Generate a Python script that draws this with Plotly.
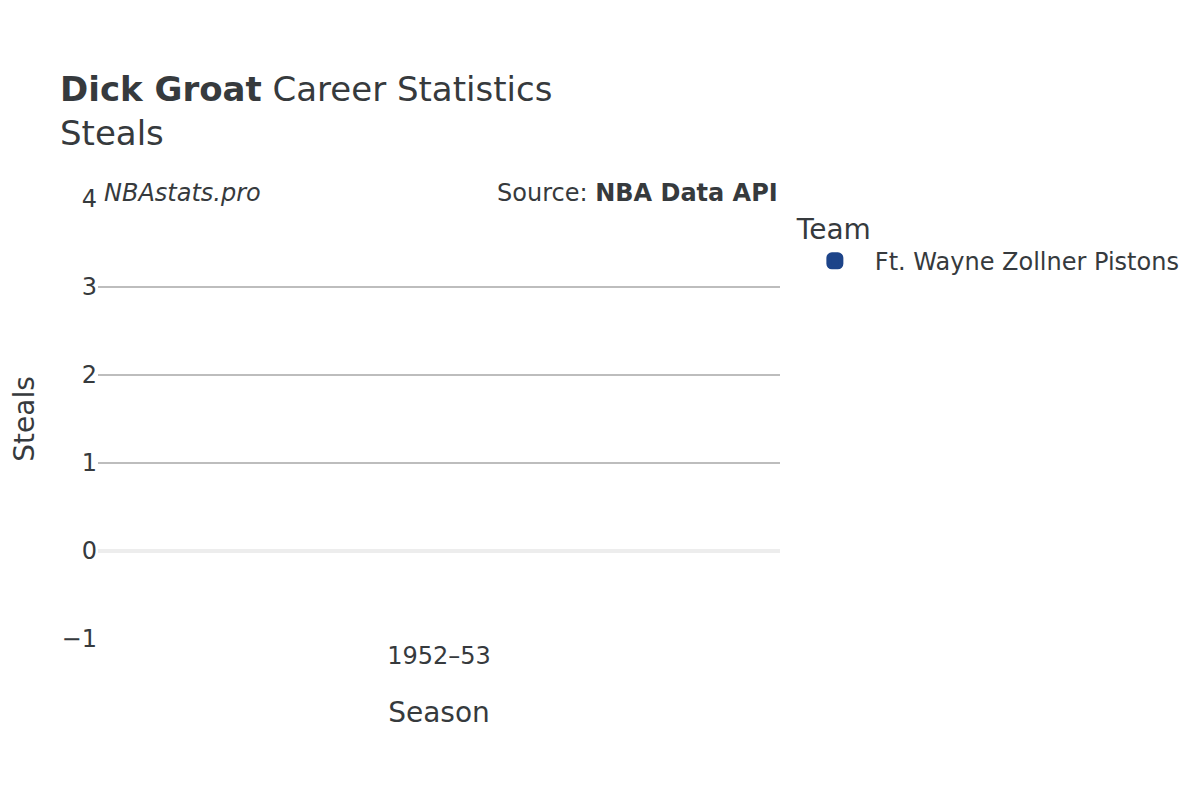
import plotly.graph_objects as go

seasons = ["1952–53"]
steals = [None]  # no steals recorded for this season
team = "Ft. Wayne Zollner Pistons"
team_color = "#1d4489"

fig = go.Figure()
fig.add_trace(go.Bar(
    x=seasons, y=steals, name=team,
    marker=dict(color=team_color, cornerradius=4, line=dict(color=team_color, width=5)),
))

font_family = "DejaVu Sans"
fig.update_layout(
    width=1200, height=800,
    paper_bgcolor="white", plot_bgcolor="white",
    font=dict(family=font_family, color="#363a3d", size=24),
    margin=dict(l=90, r=428, t=191, b=169),
    title=dict(
        text="<b>Dick Groat</b> Career Statistics<br>Steals",
        x=52/1200, xanchor="left", y=0.884, yanchor="top",
        font=dict(size=34, family=font_family, color="#363a3d"),
    ),
    showlegend=True,
    legend=dict(
        title=dict(text="Team", font=dict(size=28)),
        font=dict(size=24),
        x=1.0218, xanchor="left", y=0.9925, yanchor="top",
        itemwidth=70,
    ),
    xaxis=dict(
        title=dict(text="Season", font=dict(size=28), standoff=33),
        showgrid=False, tickfont=dict(size=24),
    ),
    yaxis=dict(
        title=dict(text="Steals", font=dict(size=28), standoff=35),
        automargin=False,
        range=[-1, 4], dtick=1,
        gridcolor="#bdbdbd", gridwidth=2,
        zeroline=True, zerolinecolor="#ededed", zerolinewidth=4,
        tickfont=dict(size=24),
    ),
    annotations=[
        dict(text="<i>NBAstats.pro</i>", xref="paper", yref="paper",
             x=0.0057, y=1.0136, xanchor="left", yanchor="middle",
             showarrow=False, font=dict(size=24)),
        dict(text="Source: <b>NBA Data API</b>", xref="paper", yref="paper",
             x=0.9994, y=1.0136, xanchor="right", yanchor="middle",
             showarrow=False, font=dict(size=24)),
    ],
)

fig.write_html("out.html")
